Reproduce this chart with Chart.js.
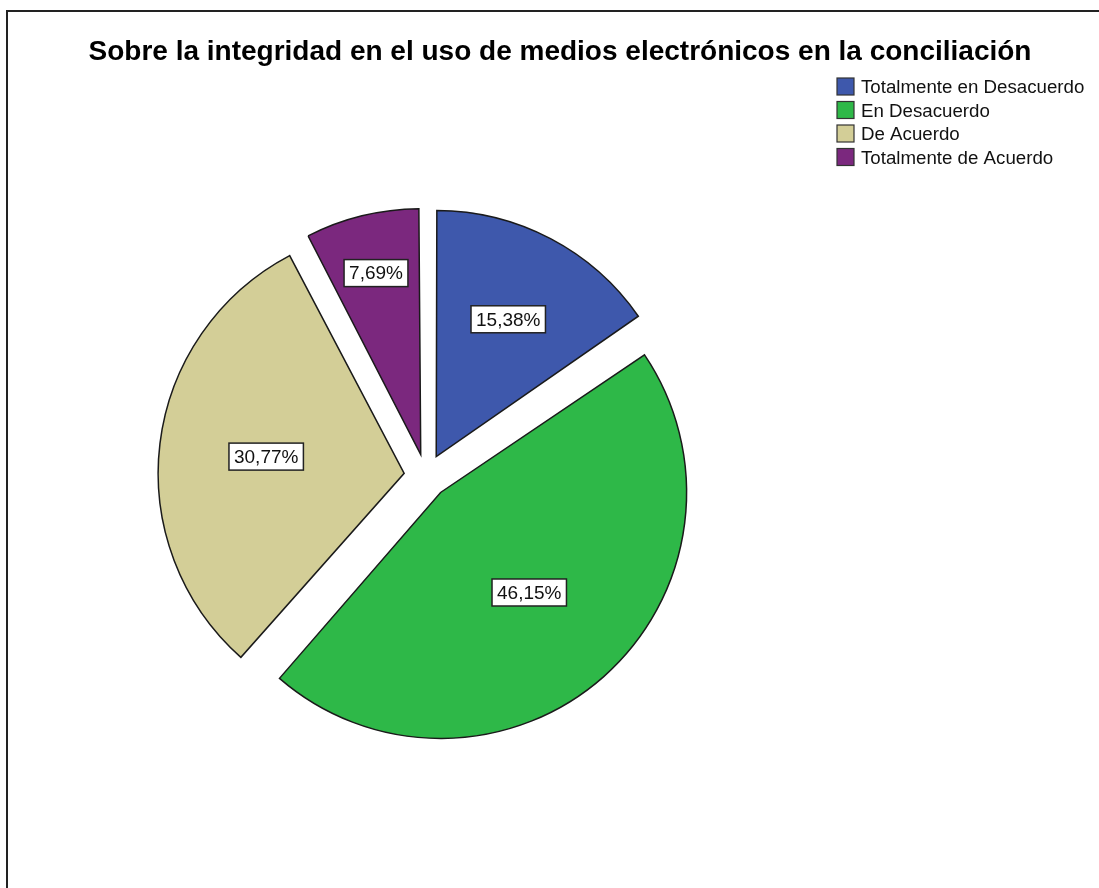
<!DOCTYPE html>
<html>
<head>
<meta charset="utf-8">
<script src="https://cdn.jsdelivr.net/npm/chart.js@4.4.1/dist/chart.umd.min.js"></script>
<style>
html, body { margin: 0; padding: 0; background: #fff; }
#wrap { width: 1099px; height: 888px; }
</style>
</head>
<body>
<div id="wrap"><canvas id="pieChart" width="1099" height="888"></canvas></div>
<script>
// data
var titleText = 'Sobre la integridad en el uso de medios electrónicos en la conciliación';
var categories = ['Totalmente en Desacuerdo', 'En Desacuerdo', 'De Acuerdo', 'Totalmente de Acuerdo'];
var percents = [15.38, 46.15, 30.77, 7.69];
var sliceColors = ['#3e58ac', '#2eb848', '#d3ce97', '#7b287e'];

var FONT = '"Liberation Sans", Arial, sans-serif';
var PIE_RADIUS = 246;
var EXPLODE = 88; // chart.js moves the arc by offset/4

function fmt(v) {
    return v.toFixed(2).replace('.', ',') + '%';
}

// keep all slices the same radius (chart.js grows wide slices when offset is used)
var evenRadius = {
    id: 'evenRadius',
    beforeDatasetsDraw: function(chart) {
        var meta = chart.getDatasetMeta(0);
        var R = meta.controller.outerRadius;
        meta.data.forEach(function(arc) {
            var c = arc.endAngle - arc.startAngle;
            var shift = (arc.options.offset || 0) / 4;
            var fix = 1 - Math.sin(Math.min(Math.PI, c));
            arc.outerRadius = R - shift * fix;
        });
    }
};

var frameAndText = {
    id: 'frameAndText',
    beforeDraw: function(chart) {
        var ctx = chart.ctx;
        ctx.save();
        ctx.fillStyle = '#fff';
        ctx.fillRect(0, 0, chart.width, chart.height);
        ctx.restore();
    },
    afterDatasetsDraw: function(chart) {
        var ctx = chart.ctx;
        var meta = chart.getDatasetMeta(0);
        var R = meta.controller.outerRadius;
        var total = percents.reduce(function(a, b) { return a + b; }, 0);
        ctx.save();
        ctx.font = '19px ' + FONT;
        ctx.textAlign = 'center';
        ctx.textBaseline = 'middle';
        meta.data.forEach(function(arc, i) {
            var mid = (arc.startAngle + arc.endAngle) / 2;
            var shift = (arc.options.offset || 0) / 4;
            var share = percents[i] / total;
            // small slices get their label further out
            var f = 0.5 + 0.02 / share;
            var px = arc.x + Math.cos(mid) * (shift + f * R);
            var py = arc.y + Math.sin(mid) * (shift + f * R);
            var txt = fmt(percents[i]);
            var w = ctx.measureText(txt).width + 10;
            var h = 27;
            ctx.fillStyle = '#fff';
            ctx.fillRect(px - w / 2, py - h / 2, w, h);
            ctx.strokeStyle = '#222';
            ctx.lineWidth = 1.5;
            ctx.strokeRect(px - w / 2, py - h / 2, w, h);
            ctx.fillStyle = '#111';
            ctx.fillText(txt, px, py + 1);
        });
        ctx.restore();
    },
    afterDraw: function(chart) {
        var ctx = chart.ctx;
        ctx.save();
        // outer frame (left and top only are visible)
        ctx.strokeStyle = '#222';
        ctx.lineWidth = 2;
        ctx.beginPath();
        ctx.moveTo(7, chart.height);
        ctx.lineTo(7, 11);
        ctx.lineTo(chart.width, 11);
        ctx.stroke();

        // title
        ctx.fillStyle = '#000';
        ctx.font = 'bold 28px ' + FONT;
        ctx.textAlign = 'center';
        ctx.textBaseline = 'alphabetic';
        ctx.fillText(titleText, 560, 60);

        // legend
        ctx.font = '18.7px ' + FONT;
        ctx.textAlign = 'left';
        for (var i = 0; i < categories.length; i++) {
            var y = 78 + i * 23.5;
            ctx.fillStyle = sliceColors[i];
            ctx.fillRect(837, y, 17, 17);
            ctx.strokeStyle = '#333';
            ctx.lineWidth = 1.2;
            ctx.strokeRect(837, y, 17, 17);
            ctx.fillStyle = '#111';
            ctx.fillText(categories[i], 861, y + 15);
        }
        ctx.restore();
    }
};

var ctx = document.getElementById('pieChart');
var pie = new Chart(ctx, {
    type: 'pie',
    data: {
        labels: categories,
        datasets: [{
            data: percents,
            backgroundColor: sliceColors,
            borderColor: '#1a1a1a',
            borderWidth: 1.5,
            borderJoinStyle: 'miter',
            offset: EXPLODE
        }]
    },
    options: {
        responsive: false,
        animation: false,
        devicePixelRatio: 1,
        radius: PIE_RADIUS,
        events: [],
        layout: { padding: { left: 0, right: 247, top: 64, bottom: 0 } },
        plugins: {
            legend: { display: false },
            title: { display: false },
            tooltip: { enabled: false }
        }
    },
    plugins: [evenRadius, frameAndText]
});
</script>
</body>
</html>
